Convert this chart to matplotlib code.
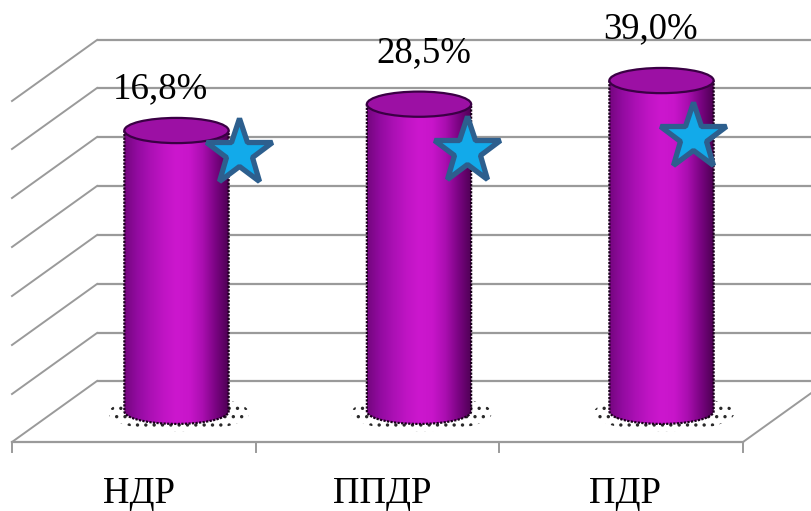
import numpy as np
import matplotlib
matplotlib.use("Agg")
import matplotlib.pyplot as plt
from matplotlib.patches import Ellipse, Polygon
from matplotlib.colors import LinearSegmentedColormap

# ---- data ----
categories = ["НДР", "ППДР", "ПДР"]
values = [16.8, 28.5, 39.0]
value_labels = ["16,8%", "28,5%", "39,0%"]
star_levels = [7.0, 7.5, 13.7]

plt.rcParams["font.family"] = ["Liberation Serif", "DejaVu Serif"]
plt.rcParams["hatch.linewidth"] = 1.2

W, H, DPI = 812, 511, 100
fig = plt.figure(figsize=(W / DPI, H / DPI), dpi=DPI)
fig.patch.set_facecolor("white")

# ---- 3D frame drawn in pixel space (walls, floor, grid) ----
bg = fig.add_axes([0, 0, 1, 1])
bg.set_xlim(0, W)
bg.set_ylim(H, 0)
bg.axis("off")
grid_c = "#9a9a9a"
wall_left, depth_dx, depth_dy = 97, -85, 61
grid_y = [40, 88, 137, 186, 235, 284, 333, 381]
for gy in grid_y:
    bg.plot([wall_left, W], [gy, gy], color=grid_c, lw=1.6, solid_capstyle="butt")
    bg.plot([wall_left, wall_left + depth_dx], [gy, gy + depth_dy], color=grid_c, lw=1.4)
front_y = grid_y[-1] + depth_dy
front_x0 = wall_left + depth_dx
front_x1 = 743
bg.plot([front_x0, front_x1], [front_y, front_y], color=grid_c, lw=1.6)
bg.plot([front_x1, front_x1 + 72], [front_y, front_y - 72 * depth_dy / -depth_dx],
        color=grid_c, lw=1.4)
for tx in np.linspace(front_x0, front_x1, len(categories) + 1):
    bg.plot([tx, tx], [front_y, front_y + 10], color=grid_c, lw=1.4)

# ---- cylinders in data space ----
ax = fig.add_axes([0, 0, 1, 1])
ax.patch.set_alpha(0)
ax.axis("off")
ax.set_xlim(-0.7278, 2.6206)
ax.set_ylim(-152.3, 74.8)

base = -108.0
bw = 0.43
eh = 5.6  # half height of the end ellipses, in value units

body_cmap = LinearSegmentedColormap.from_list(
    "body",
    ["#74067e", "#920ba0", "#ab10b4", "#bf14c4", "#cc17ce", "#c815ca", "#aa0eb0", "#7a0482", "#4c0052"],
)
grad = np.linspace(0, 1, 256).reshape(1, -1)

for i, v in enumerate(values):
    xl, xr = i - bw / 2, i + bw / 2
    t = np.linspace(np.pi, 2 * np.pi, 60)
    arc = np.column_stack([i + bw / 2 * np.cos(t), base + eh * np.sin(t)])
    outline = np.vstack([[xl, v], arc, [xr, v]])

    # speckled floor shadow
    ax.add_patch(Ellipse((i + 0.01, base - 0.8), bw + 0.15, 2 * eh + 5,
                         facecolor="none", edgecolor="#2a2a2a", hatch="..",
                         lw=0, zorder=1))

    body = Polygon(outline, closed=True, facecolor="none", edgecolor="none")
    ax.add_patch(body)
    im = ax.imshow(grad, cmap=body_cmap, aspect="auto", interpolation="bilinear",
                   extent=(xl, xr, base - eh, v), zorder=2)
    im.set_clip_path(body)
    ax.plot(outline[:, 0], outline[:, 1], color="#1a001c", lw=1.6, ls=(0, (1, 0.6)), zorder=3)

    ax.add_patch(Ellipse((i, v), bw, 2 * eh, facecolor="#9c10a4",
                         edgecolor="#3a0044", lw=1.6, zorder=4))

# value labels above the cylinders
label_dx = [-16, 5, -11]
label_dy = [42, 51, 52]
for i, (v, txt) in enumerate(zip(values, value_labels)):
    ax.annotate(txt, (i, v), xytext=(label_dx[i], label_dy[i]), textcoords="offset pixels",
                ha="center", va="center", fontsize=26.5, color="black", zorder=6)

# star markers
star_dx = [0.256, 0.200, 0.128]
for i, s in enumerate(star_levels):
    ax.plot(i + star_dx[i], s, marker="*", ms=50, mfc="#12aaea", mec="#2d5f8e",
            mew=3.8, zorder=5)

# category labels along the front edge
for i, c in enumerate(categories):
    ax.annotate(c, (i, 0), xycoords=("data", "axes fraction"), xytext=(-37, 17),
                textcoords="offset pixels", ha="center", va="center",
                fontsize=26.5, color="black")

fig.savefig("out.png", dpi=DPI, facecolor="white")
